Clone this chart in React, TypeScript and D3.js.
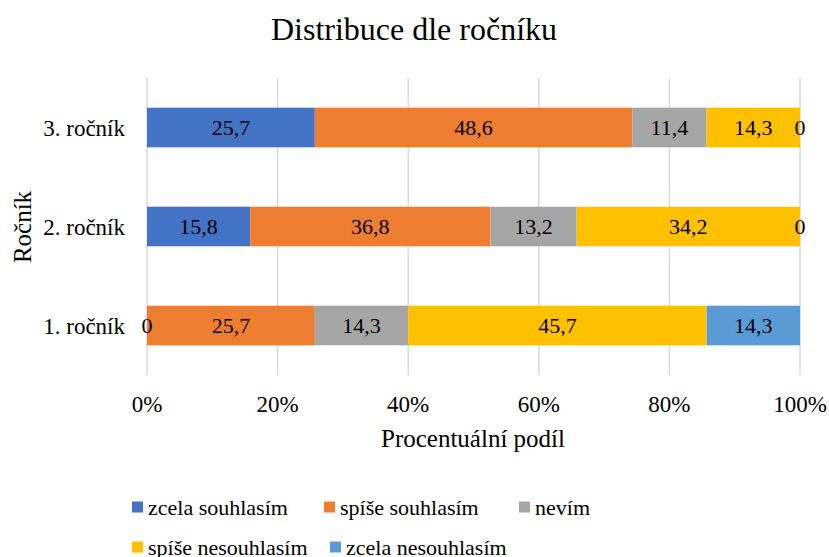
import * as d3 from 'd3';
import React from 'react';

const years = ['3. ročník', '2. ročník', '1. ročník'];
const seriesNames = ['zcela souhlasím', 'spíše souhlasím', 'nevím', 'spíše nesouhlasím', 'zcela nesouhlasím'];
const seriesColors = ['#4472C4', '#ED7D31', '#A5A5A5', '#FFC000', '#5B9BD5'];
// values per year, in series order
const year3 = [25.7, 48.6, 11.4, 14.3, 0];
const year2 = [15.8, 36.8, 13.2, 34.2, 0];
const year1 = [0, 25.7, 14.3, 45.7, 14.3];
const tickValues = [0, 20, 40, 60, 80, 100];

const W = 829;
const H = 557;
const FONT = 'Liberation Serif';

const x = d3.scaleLinear().domain([0, 100]).range([147, 800]);
const y = d3.scaleBand().domain(years).range([78, 375]).paddingInner(0.6).paddingOuter(0.3);
const fmt = (v: number) => d3.format('.1f')(v).replace('.', ',').replace(/,0$/, '');

function Label({ x, y, size, anchor = 'middle', children }: any) {
    return (
        <text x={x} y={y} dy="0.35em" textAnchor={anchor} fontFamily={FONT} fontSize={size}>
            {children}
        </text>
    );
}

const legendPos = [
    [132, 507], [324, 507], [519, 507],
    [132, 547], [330, 547],
];

export default function App() {
    const rows = [year3, year2, year1].map((vals, i) => {
        const stack = d3.cumsum(vals);
        return vals.map((v, k) => ({ cat: years[i], k, v, start: stack[k] - v, end: stack[k] }));
    });

    return (
        <svg width={W} height={H} style={{ position: 'absolute', left: 0, top: 0, background: '#fff' }}>
            {tickValues.map(t => (
                <line key={t} x1={x(t)} x2={x(t)} y1={78} y2={375} stroke="#d9d9d9" strokeWidth={1.5} />
            ))}
            {rows.map((segs, i) => (
                <g key={i}>
                    {segs.map(d => (
                        <rect
                            key={d.k}
                            x={x(d.start)}
                            width={x(d.end) - x(d.start)}
                            y={y(d.cat)}
                            height={y.bandwidth()}
                            fill={seriesColors[d.k]}
                        />
                    ))}
                    {segs.map(d => (
                        <Label key={'t' + d.k} x={(x(d.start) + x(d.end)) / 2} y={y(d.cat)! + y.bandwidth() / 2} size={22}>
                            {fmt(d.v)}
                        </Label>
                    ))}
                </g>
            ))}
            {years.map(c => (
                <Label key={c} x={125} y={y(c)! + y.bandwidth() / 2} size={23} anchor="end">{c}</Label>
            ))}
            {tickValues.map(t => (
                <Label key={t} x={x(t)} y={404} size={23}>{`${t}%`}</Label>
            ))}
            <Label x={414} y={29} size={32}>Distribuce dle ročníku</Label>
            <Label x={473} y={438} size={25}>Procentuální podíl</Label>
            <text transform="translate(22, 227) rotate(-90)" dy="0.35em" textAnchor="middle" fontFamily={FONT} fontSize={25}>
                Ročník
            </text>
            {seriesNames.map((s, i) => (
                <g key={s}>
                    <rect x={legendPos[i][0]} y={legendPos[i][1] - 5.5} width={11} height={11} fill={seriesColors[i]} />
                    <Label x={legendPos[i][0] + 16} y={legendPos[i][1]} size={22} anchor="start">{s}</Label>
                </g>
            ))}
        </svg>
    );
}
